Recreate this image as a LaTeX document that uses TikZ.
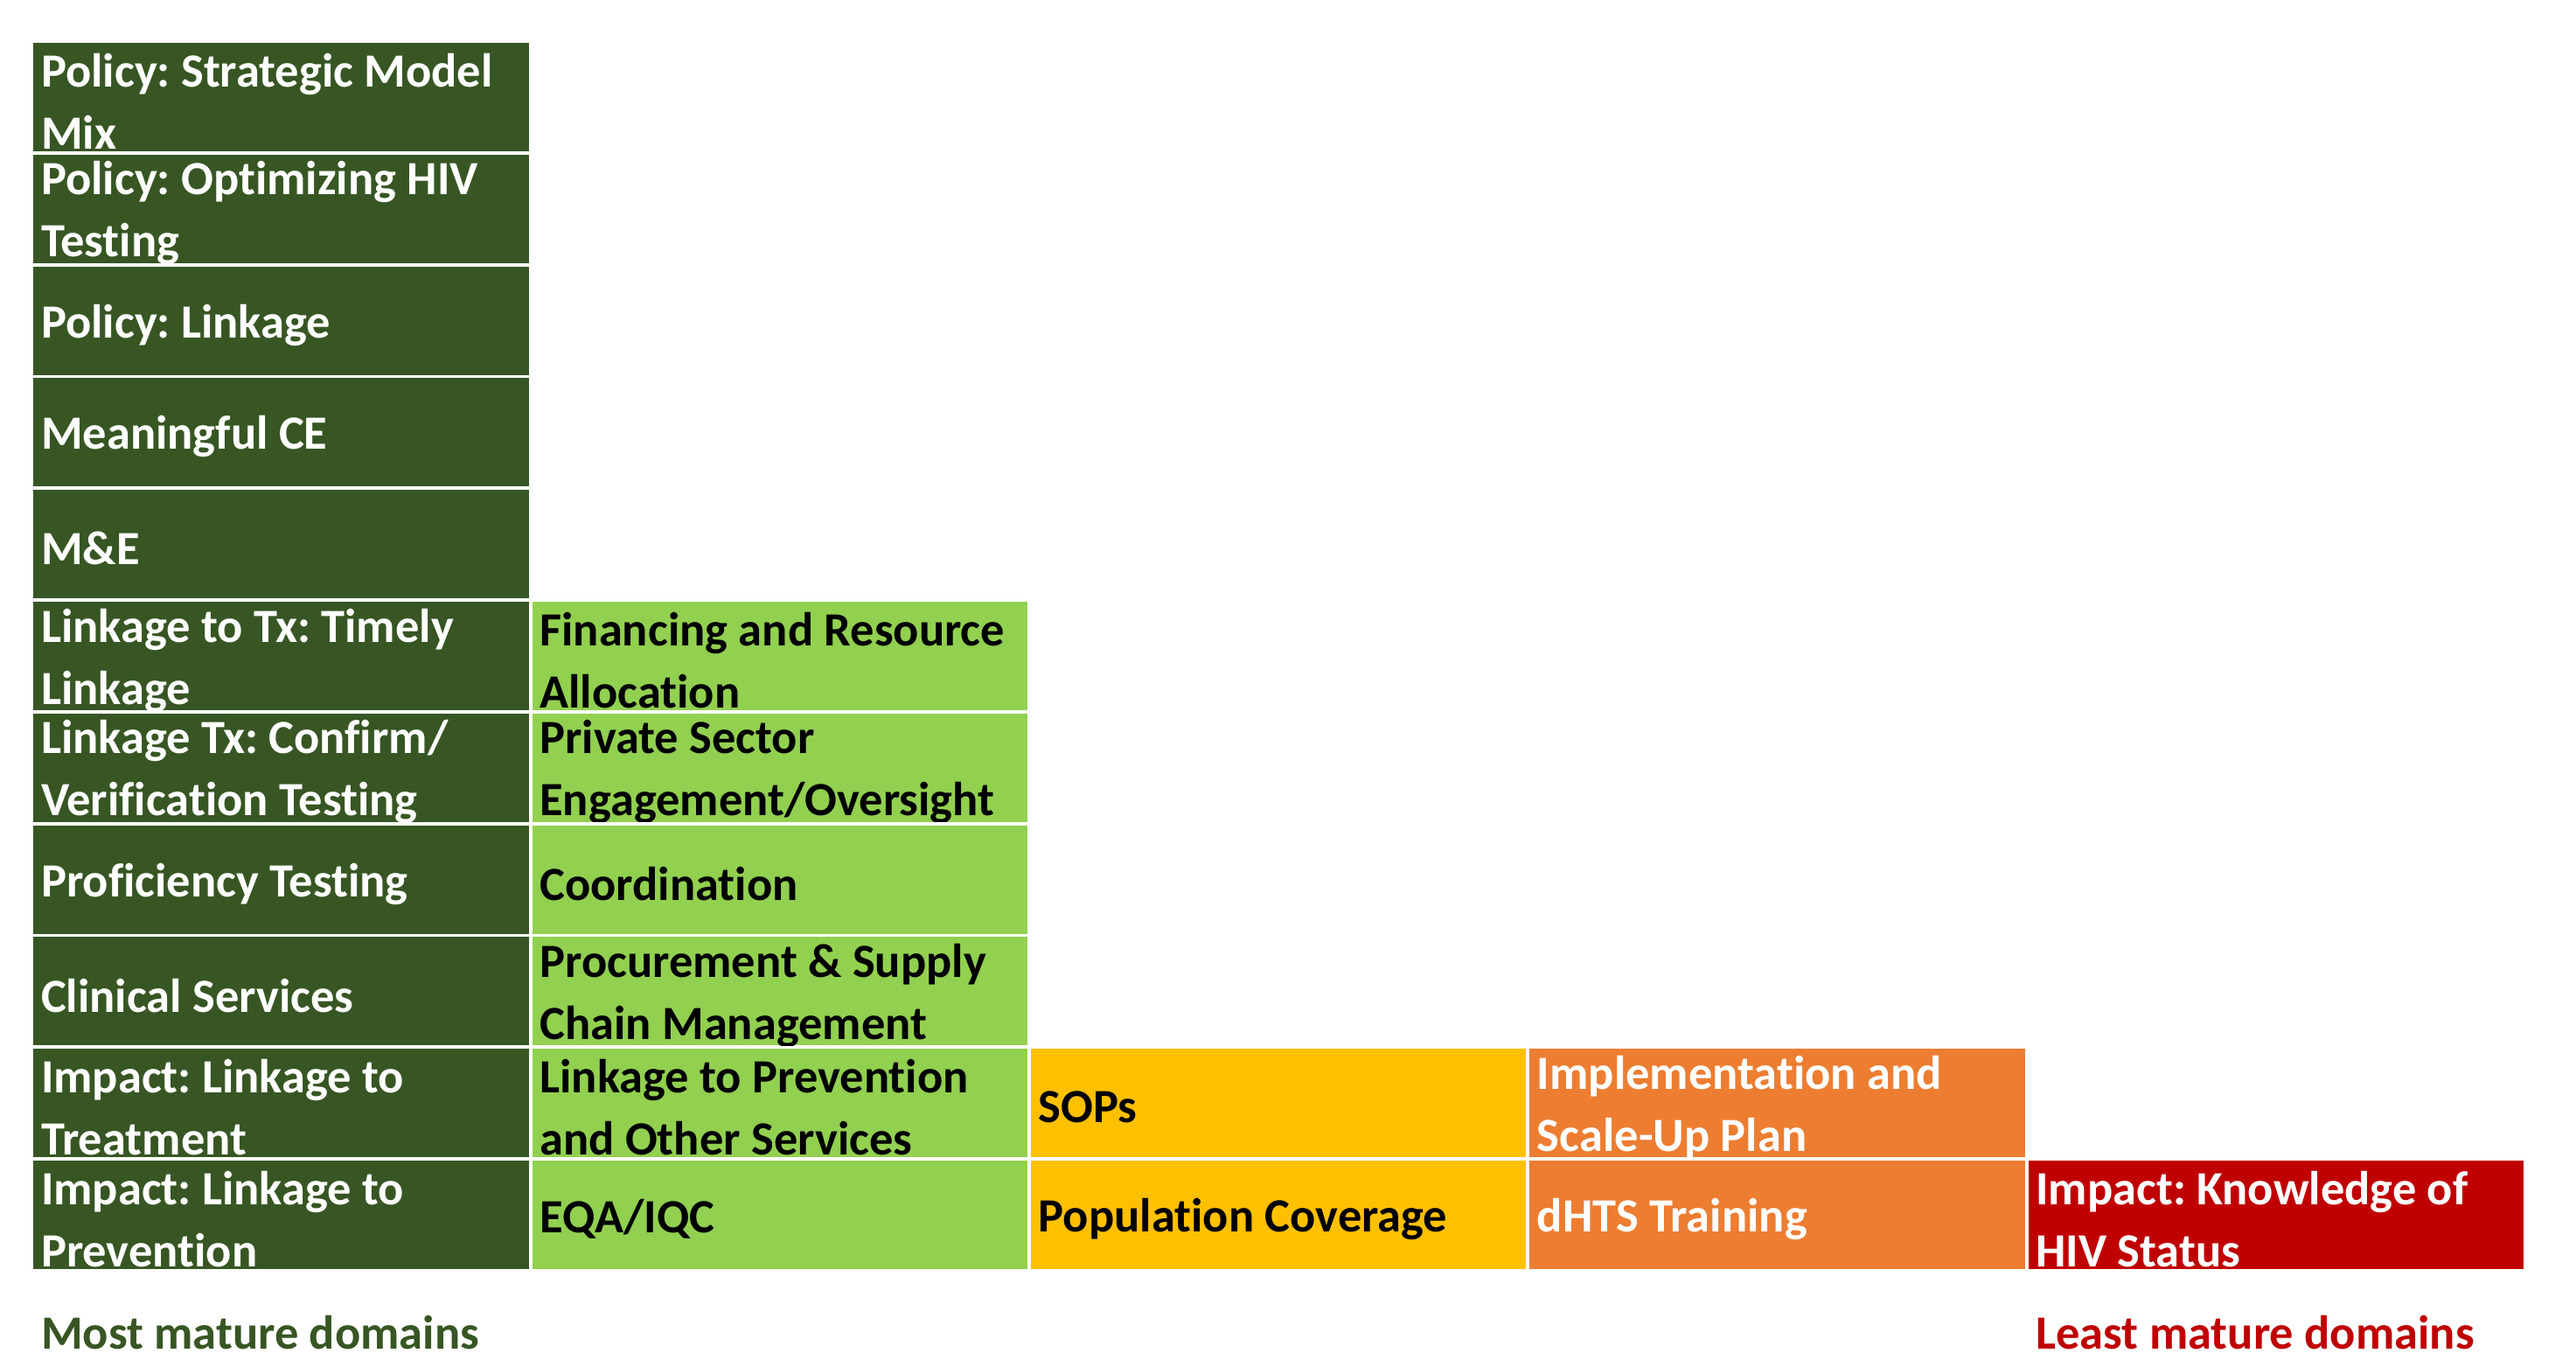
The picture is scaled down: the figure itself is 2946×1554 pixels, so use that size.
\documentclass[tikz,border=0pt]{standalone}
\usepackage{fontspec}
\setmainfont[Ligatures=NoCommon]{Carlito}
\frenchspacing
\usetikzlibrary{positioning}

\definecolor{darkgreen}{RGB}{55,86,35}
\definecolor{lightgreen}{RGB}{146,208,80}
\definecolor{amber}{RGB}{255,192,0}
\definecolor{orangecell}{RGB}{237,125,49}
\definecolor{crimson}{RGB}{192,0,0}

\tikzset{
  cellbox/.style={draw=none,minimum width=5.66cm,minimum height=1.24cm,inner sep=0pt,outer sep=0pt},
  celltext/.style={anchor=west,align=left,inner xsep=0.08cm,inner ysep=0pt,yshift=-0.05cm,
    font=\bfseries\fontsize{15.5}{20.2}\selectfont},
  notetext/.style={anchor=west,inner xsep=0.08cm,inner ysep=0pt,
    font=\bfseries\fontsize{15.5}{20.2}\selectfont}
}

% name, x, y, fill, text colour, text
\newcommand{\domaincell}[6]{%
  \node[cellbox,fill=#4] (#1) at (#2,#3) {};
  \begin{scope}
  \clip (#1.south west) rectangle (#1.north east);
  \node[celltext,text=#5] (#1-label) at (#1.west) {#6};
  \end{scope}
}

\begin{document}
\begin{tikzpicture}[x=0.01cm,y=-0.01cm]
\useasboundingbox (0,0) rectangle (2946,1554);
% most mature column
\domaincell{modelmix}{321.5}{111}{darkgreen}{white}{Policy: Strategic Model\\Mix}
\domaincell{optimizing}{321.5}{238.8}{darkgreen}{white}{Policy: Optimizing HIV\\Testing}
\domaincell{policylink}{321.5}{366.6}{darkgreen}{white}{Policy: Linkage}
\domaincell{meaningful}{321.5}{494.4}{darkgreen}{white}{Meaningful CE}
\domaincell{mande}{321.5}{622.2}{darkgreen}{white}{M\&E}
\domaincell{timely}{321.5}{750}{darkgreen}{white}{Linkage to Tx: Timely\\Linkage}
\domaincell{confirm}{321.5}{877.8}{darkgreen}{white}{Linkage Tx: Confirm/\\Verification Testing}
\domaincell{proficiency}{321.5}{1005.6}{darkgreen}{white}{Proficiency Testing}
\domaincell{clinical}{321.5}{1133.4}{darkgreen}{white}{Clinical Services}
\domaincell{treatment}{321.5}{1261.2}{darkgreen}{white}{Impact: Linkage to\\Treatment}
\domaincell{prevention}{321.5}{1389}{darkgreen}{white}{Impact: Linkage to\\Prevention}
% second column
\domaincell{financing}{891.8}{750}{lightgreen}{black}{Financing and Resource\\Allocation}
\domaincell{private}{891.8}{877.8}{lightgreen}{black}{Private Sector\\Engagement/Oversight}
\domaincell{coordination}{891.8}{1005.6}{lightgreen}{black}{Coordination}
\domaincell{procurement}{891.8}{1133.4}{lightgreen}{black}{Procurement \& Supply\\Chain Management}
\domaincell{otherserv}{891.8}{1261.2}{lightgreen}{black}{Linkage to Prevention\\and Other Services}
\domaincell{eqa}{891.8}{1389}{lightgreen}{black}{EQA/IQC}
% third column
\domaincell{sops}{1462.1}{1261.2}{amber}{black}{SOPs}
\domaincell{coverage}{1462.1}{1389}{amber}{black}{Population Coverage}
% fourth column
\domaincell{scaleup}{2032.4}{1261.2}{orangecell}{white}{Implementation and\\Scale-Up Plan}
\domaincell{training}{2032.4}{1389}{orangecell}{white}{dHTS Training}
% least mature column
\domaincell{knowledge}{2602.7}{1389}{crimson}{white}{Impact: Knowledge of\\HIV Status}
% footer labels
\node[notetext,text=darkgreen] (mostmature) at (38.5,1524) {Most mature domains};
\node[notetext,text=crimson] (leastmature) at (2319.7,1524) {Least mature domains};
\end{tikzpicture}
\end{document}
